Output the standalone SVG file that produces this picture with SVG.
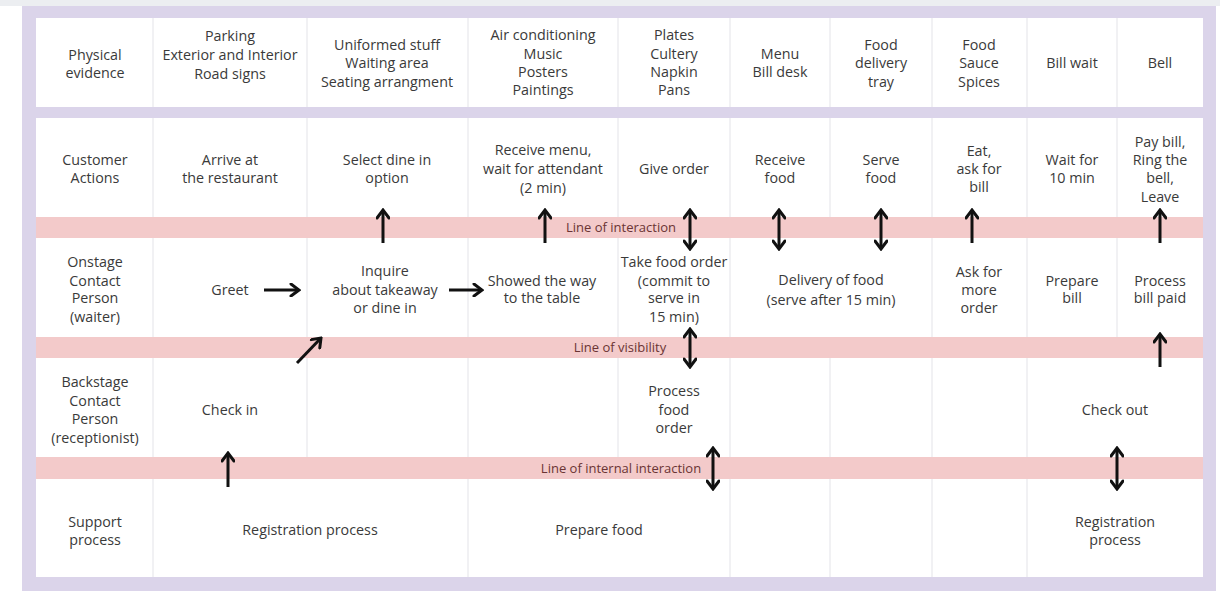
<svg xmlns="http://www.w3.org/2000/svg" width="1220" height="591" viewBox="0 0 1220 591">
<style>
text{font-family:"Open Sans","Liberation Sans",sans-serif;font-size:14.3px;fill:#3a3a3a;text-anchor:middle}
.band-label{font-size:13px;fill:#6a3434}
.div{stroke:#e3e3e8;stroke-width:1}
.arr{stroke:#111;stroke-width:3;fill:none}
</style>
<defs>
<marker id="head" viewBox="0 0 12 14" markerWidth="12" markerHeight="14" markerUnits="userSpaceOnUse" refX="10" refY="7" orient="auto-start-reverse">
<path d="M2,1 L10,7 L2,13" fill="none" stroke="#111" stroke-width="3" stroke-linecap="round"/>
</marker>
</defs>
<rect x="0" y="0" width="1220" height="591" fill="#ffffff"/>
<rect x="0" y="0" width="1220" height="6" fill="#eceef1"/>
<rect x="22" y="6" width="1194" height="585" fill="#dbd4ea"/>
<rect x="36" y="18" width="1167" height="89" fill="#ffffff"/>
<rect x="36" y="118" width="1167" height="459" fill="#ffffff"/>
<g id="bands">
<rect x="36" y="217" width="1167" height="21" fill="#f3caca"/>
<rect x="36" y="337" width="1167" height="21" fill="#f3caca"/>
<rect x="36" y="457" width="1167" height="22" fill="#f3caca"/>
<text class="band-label" x="621" y="232">Line of interaction</text>
<text class="band-label" x="620" y="352">Line of visibility</text>
<text class="band-label" x="621" y="473">Line of internal interaction</text>
</g>
<g id="dividers">
<path class="div" d="M153,18V107M307,18V107M468,18V107M618,18V107M730,18V107M830,18V107M932,18V107M1027,18V107M1117,18V107"/>
<path class="div" d="M153,118V217M307,118V217M468,118V217M618,118V217M730,118V217M830,118V217M932,118V217M1027,118V217M1117,118V217"/>
<path class="div" d="M153,238V337M307,238V337M468,238V337M618,238V337M730,238V337M932,238V337M1027,238V337M1117,238V337"/>
<path class="div" d="M153,358V457M307,358V457M468,358V457M618,358V457M730,358V457M830,358V457M932,358V457M1027,358V457"/>
<path class="div" d="M153,479V577M468,479V577M730,479V577M830,479V577M932,479V577M1027,479V577"/>
</g>
<g id="h-physical"><text x="95" y="60">Physical</text><text x="95" y="78">evidence</text></g>
<g id="h-parking"><text x="230" y="41">Parking</text><text x="230" y="60">Exterior and Interior</text><text x="230" y="79">Road signs</text></g>
<g id="h-uniform"><text x="387" y="50">Uniformed stuff</text><text x="387" y="68">Waiting area</text><text x="387" y="87">Seating arrangment</text></g>
<g id="h-air"><text x="543" y="40">Air conditioning</text><text x="543" y="59">Music</text><text x="543" y="77">Posters</text><text x="543" y="95">Paintings</text></g>
<g id="h-plates"><text x="674" y="40">Plates</text><text x="674" y="59">Cultery</text><text x="674" y="77">Napkin</text><text x="674" y="95">Pans</text></g>
<g id="h-menu"><text x="780" y="59">Menu</text><text x="780" y="77">Bill desk</text></g>
<g id="h-tray"><text x="881" y="50">Food</text><text x="881" y="68">delivery</text><text x="881" y="87">tray</text></g>
<g id="h-sauce"><text x="979" y="50">Food</text><text x="979" y="68">Sauce</text><text x="979" y="87">Spices</text></g>
<g id="h-billwait"><text x="1072" y="68">Bill wait</text></g>
<g id="h-bell"><text x="1160" y="68">Bell</text></g>
<g id="c-label"><text x="95" y="165">Customer</text><text x="95" y="183">Actions</text></g>
<g id="c-arrive"><text x="230" y="165">Arrive at</text><text x="230" y="183">the restaurant</text></g>
<g id="c-select"><text x="387" y="165">Select dine in</text><text x="387" y="183">option</text></g>
<g id="c-menu"><text x="543" y="155">Receive menu,</text><text x="543" y="174">wait for attendant</text><text x="543" y="193">(2 min)</text></g>
<g id="c-give"><text x="674" y="174">Give order</text></g>
<g id="c-receive"><text x="780" y="165">Receive</text><text x="780" y="183">food</text></g>
<g id="c-serve"><text x="881" y="165">Serve</text><text x="881" y="183">food</text></g>
<g id="c-eat"><text x="979" y="156">Eat,</text><text x="979" y="174">ask for</text><text x="979" y="192">bill</text></g>
<g id="c-wait"><text x="1072" y="165">Wait for</text><text x="1072" y="183">10 min</text></g>
<g id="c-pay"><text x="1160" y="147">Pay bill,</text><text x="1160" y="165">Ring the</text><text x="1160" y="183">bell,</text><text x="1160" y="202">Leave</text></g>
<g id="o-label"><text x="95" y="267">Onstage</text><text x="95" y="286">Contact</text><text x="95" y="303">Person</text><text x="95" y="322">(waiter)</text></g>
<g id="o-greet"><text x="230" y="295">Greet</text></g>
<g id="o-inquire"><text x="385" y="276">Inquire</text><text x="385" y="295">about takeaway</text><text x="385" y="313">or dine in</text></g>
<g id="o-showed"><text x="542" y="286">Showed the way</text><text x="542" y="303">to the table</text></g>
<g id="o-take"><text x="674" y="267">Take food order</text><text x="674" y="286">(commit to</text><text x="674" y="303">serve in</text><text x="674" y="322">15 min)</text></g>
<g id="o-delivery"><text x="831" y="285">Delivery of food</text><text x="831" y="305">(serve after 15 min)</text></g>
<g id="o-ask"><text x="979" y="277">Ask for</text><text x="979" y="295">more</text><text x="979" y="313">order</text></g>
<g id="o-prepare"><text x="1072" y="286">Prepare</text><text x="1072" y="303">bill</text></g>
<g id="o-process"><text x="1160" y="286">Process</text><text x="1160" y="303">bill paid</text></g>
<g id="b-label"><text x="95" y="387">Backstage</text><text x="95" y="406">Contact</text><text x="95" y="424">Person</text><text x="95" y="443">(receptionist)</text></g>
<g id="b-checkin"><text x="230" y="415">Check in</text></g>
<g id="b-process"><text x="674" y="396">Process</text><text x="674" y="415">food</text><text x="674" y="433">order</text></g>
<g id="b-checkout"><text x="1115" y="415">Check out</text></g>
<g id="s-label"><text x="95" y="527">Support</text><text x="95" y="545">process</text></g>
<g id="s-registration"><text x="310" y="535">Registration process</text></g>
<g id="s-prepare"><text x="599" y="535">Prepare food</text></g>
<g id="s-registration2"><text x="1115" y="527">Registration</text><text x="1115" y="545">process</text></g>
<g id="connectors">
<path class="arr" d="M383,243V210" marker-end="url(#head)"/>
<path class="arr" d="M545,243V210" marker-end="url(#head)"/>
<path class="arr" d="M690,210V249" marker-start="url(#head)" marker-end="url(#head)"/>
<path class="arr" d="M779,210V249" marker-start="url(#head)" marker-end="url(#head)"/>
<path class="arr" d="M881,210V249" marker-start="url(#head)" marker-end="url(#head)"/>
<path class="arr" d="M972,243V210" marker-end="url(#head)"/>
<path class="arr" d="M1160,243V210" marker-end="url(#head)"/>
<path class="arr" d="M264,290H299" marker-end="url(#head)"/>
<path class="arr" d="M449,290H482" marker-end="url(#head)"/>
<path class="arr" d="M690,329V367" marker-start="url(#head)" marker-end="url(#head)"/>
<path class="arr" d="M1160,367V334" marker-end="url(#head)"/>
<path class="arr" d="M297,363L321,338" marker-end="url(#head)"/>
<path class="arr" d="M228,487V453" marker-end="url(#head)"/>
<path class="arr" d="M713,448V489" marker-start="url(#head)" marker-end="url(#head)"/>
<path class="arr" d="M1117,448V489" marker-start="url(#head)" marker-end="url(#head)"/>
</g>
</svg>
